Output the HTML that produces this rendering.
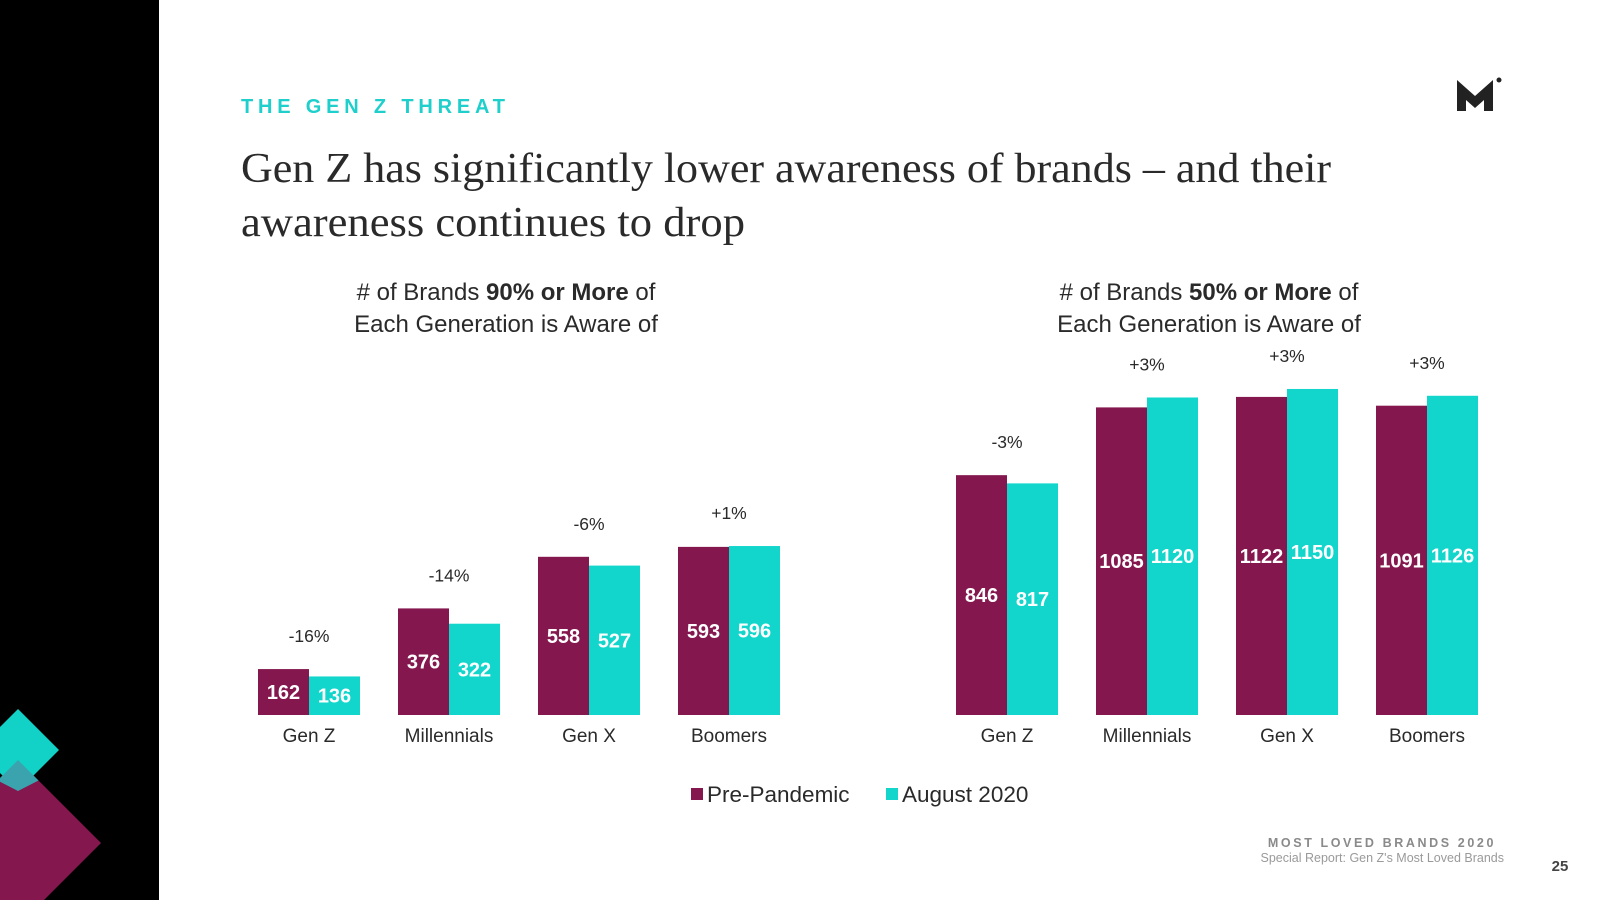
<!DOCTYPE html>
<html><head><meta charset="utf-8">
<style>
html,body{margin:0;padding:0;background:#fff;}
svg{display:block;font-family:"Liberation Sans",sans-serif;}
</style></head>
<body>
<svg id="slide" width="1600" height="900" viewBox="0 0 1600 900" xmlns="http://www.w3.org/2000/svg">
  <rect x="0" y="0" width="1600" height="900" fill="#fff"/>
  <g>
    <rect x="0" y="0" width="159" height="900" fill="#000"/>
    <polygon points="18,760 101,843 18,926 -65,843" fill="#84184E"/>
    <polygon points="18,709 59,750 18,791 -23,750" fill="#12D1C7"/>
    <polygon points="18,760 38.5,780.5 18,791 -2.5,780.5" fill="#3AA3AE"/>
  </g>
  <text x="241" y="113" font-size="20" font-weight="bold" fill="#1ECFCB" textLength="264" lengthAdjust="spacing">THE GEN Z THREAT</text>
  <text x="241" y="182" font-family="Liberation Serif, serif" font-size="42" fill="#2a2a2a" textLength="1090" lengthAdjust="spacingAndGlyphs">Gen Z has significantly lower awareness of brands – and their</text>
  <text x="241" y="236" font-family="Liberation Serif, serif" font-size="42" fill="#2a2a2a" textLength="504" lengthAdjust="spacingAndGlyphs">awareness continues to drop</text>
  <g>
    <polygon points="1457,80 1475,96 1493,80 1493,111 1484,111 1484,100 1475,108 1466,100 1466,111 1457,111" fill="#222"/>
    <circle cx="1499" cy="80" r="2.5" fill="#222"/>
  </g>
  <text x="506" y="300" font-size="24" fill="#2a2a2a" text-anchor="middle"># of Brands <tspan font-weight="bold">90% or More</tspan> of</text>
  <text x="506" y="332" font-size="24" fill="#2a2a2a" text-anchor="middle">Each Generation is Aware of</text>
  <text x="1209" y="300" font-size="24" fill="#2a2a2a" text-anchor="middle"># of Brands <tspan font-weight="bold">50% or More</tspan> of</text>
  <text x="1209" y="332" font-size="24" fill="#2a2a2a" text-anchor="middle">Each Generation is Aware of</text>
  <g id="charts"></g>
  <g>
    <g>
      <rect x="691" y="788" width="12" height="12" fill="#84184E"/>
      <text x="707" y="802" font-size="22.5" fill="#2a2a2a">Pre-Pandemic</text>
    </g>
    <g>
      <rect x="886" y="788" width="12" height="12" fill="#12D6CB"/>
      <text x="902" y="802" font-size="22.5" fill="#2a2a2a">August 2020</text>
    </g>
  </g>
  <text x="1496" y="847" font-size="12.5" font-weight="bold" fill="#8a8a8a" text-anchor="end" letter-spacing="2.6">MOST LOVED BRANDS 2020</text>
  <text x="1504" y="862" font-size="12.5" fill="#9a9a9a" text-anchor="end">Special Report: Gen Z's Most Loved Brands</text>
  <text x="1560" y="871" font-size="15" font-weight="bold" fill="#444" text-anchor="middle">25</text>
</svg>
<script>
const categories = ["Gen Z", "Millennials", "Gen X", "Boomers"];
const leftPre = [162, 376, 558, 593];
const leftAug = [136, 322, 527, 596];
const leftChange = ["-16%", "-14%", "-6%", "+1%"];
const rightPre = [846, 1085, 1122, 1091];
const rightAug = [817, 1120, 1150, 1126];
const rightChange = ["-3%", "+3%", "+3%", "+3%"];

const NS = "http://www.w3.org/2000/svg";
const baseY = 715, scale = 0.2835, barW = 51;
const y = v => baseY - v * scale;
const root = document.getElementById('charts');
function mk(tag, attrs, parent) {
  const e = document.createElementNS(NS, tag);
  for (const k in attrs) e.setAttribute(k, attrs[k]);
  parent.appendChild(e);
  return e;
}
function chart(name, x0, step, pre, aug, change) {
  const g = mk('g', {}, root);
  
  
  categories.forEach((c, i) => {
    const gx = x0 + i * step;
    const b1 = mk('rect', {x: gx, y: y(pre[i]), width: barW, height: pre[i] * scale, fill: '#84184E'}, g);
    
    
    const b2 = mk('rect', {x: gx + barW, y: y(aug[i]), width: barW, height: aug[i] * scale, fill: '#12D6CB'}, g);
    
    
    const t1 = mk('text', {x: gx + barW / 2, y: (y(pre[i]) + baseY) / 2 + 7, 'font-size': 20, 'font-weight': 'bold', fill: '#fff', 'text-anchor': 'middle'}, g);
    t1.textContent = pre[i];
    
    
    const t2 = mk('text', {x: gx + barW * 1.5, y: (y(aug[i]) + baseY) / 2 + 7, 'font-size': 20, 'font-weight': 'bold', fill: '#fff', 'text-anchor': 'middle'}, g);
    t2.textContent = aug[i];
    
    
    const top = Math.min(y(pre[i]), y(aug[i]));
    const t3 = mk('text', {x: gx + barW, y: top - 27, 'font-size': 17.5, fill: '#2a2a2a', 'text-anchor': 'middle'}, g);
    t3.textContent = change[i];
    
    
    const t4 = mk('text', {x: gx + barW, y: baseY + 27, 'font-size': 19, fill: '#2a2a2a', 'text-anchor': 'middle'}, g);
    t4.textContent = c;
    
    
  });
}
chart('left-chart', 258, 140, leftPre, leftAug, leftChange);
chart('right-chart', 956, 140, rightPre, rightAug, rightChange);
</script>
</body></html>
